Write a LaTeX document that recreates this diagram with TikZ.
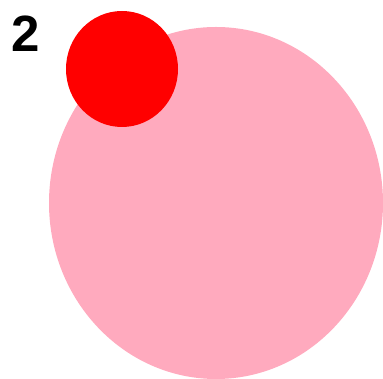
\documentclass[tikz,border=0pt]{standalone}
\usepackage{fontspec}
\setmainfont{Liberation Sans}
\definecolor{bigpink}{RGB}{255,170,190}
\definecolor{smallred}{RGB}{255,0,0}
\begin{document}
\begin{tikzpicture}[x=1pt,y=1pt,
  numlabel/.style={inner sep=0pt,font=\fontsize{51}{51}\selectfont\bfseries}]
\useasboundingbox (0,0) rectangle (383,379);
\fill[bigpink] (216,176) ellipse [x radius=167, y radius=176];
\fill[smallred] (122,310) ellipse [x radius=56, y radius=58];
\node[numlabel] (num) at (26,345.5) {2};
\end{tikzpicture}
\end{document}
